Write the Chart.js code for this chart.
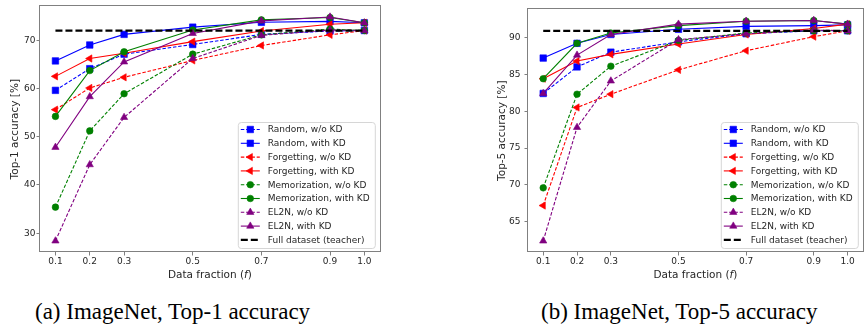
<!DOCTYPE html>
<html>
<head>
<meta charset="utf-8">
<script src="https://cdn.jsdelivr.net/npm/chart.js@4.4.1/dist/chart.umd.min.js"></script>
<style>
  html, body { margin: 0; padding: 0; background: #fff; overflow: hidden; }
  body { width: 867px; height: 326px; position: relative; }
  canvas { position: absolute; top: 0; }
  #top1Chart { left: 0; }
  #top5Chart { left: 488px; }
  .caption {
    position: absolute; top: 300px;
    font-family: "Liberation Serif", "DejaVu Serif", serif;
    font-size: 23px; line-height: 23px; color: #000; white-space: nowrap;
  }
</style>
</head>
<body>
<canvas id="top1Chart" width="385" height="290"></canvas>
<canvas id="top5Chart" width="380" height="290"></canvas>
<div class="caption" style="left:35px">(a) ImageNet, Top-1 accuracy</div>
<div class="caption" style="left:541px">(b) ImageNet, Top-5 accuracy</div>
<script>
// data fractions on the x axis
const fractions = [0.1, 0.2, 0.3, 0.5, 0.7, 0.9, 1.0];
const top1Ticks = [30, 40, 50, 60, 70];
const top5Ticks = [65, 70, 75, 80, 85, 90];

const seriesNames = [
  "Random, w/o KD", "Random, with KD",
  "Forgetting, w/o KD", "Forgetting, with KD",
  "Memorization, w/o KD", "Memorization, with KD",
  "EL2N, w/o KD", "EL2N, with KD",
];
const teacherName = "Full dataset (teacher)";

// Top-1 accuracy [%]
const top1RandomNoKD = [59.6, 64.1, 67.1, 69.1, 71.2, 71.9, 72.0];
const top1RandomKD = [65.7, 69.0, 71.2, 72.7, 73.7, 73.9, 73.6];
const top1ForgetNoKD = [55.6, 60.1, 62.3, 65.8, 68.9, 71.1, 72.0];
const top1ForgetKD = [62.5, 66.2, 67.3, 69.7, 71.9, 73.3, 73.6];
const top1MemNoKD = [35.4, 51.2, 58.9, 67.1, 71.1, 72.3, 72.0];
const top1MemKD = [54.2, 63.7, 67.6, 72.1, 74.2, 74.7, 73.6];
const top1El2nNoKD = [28.4, 44.2, 54.0, 66.2, 71.0, 72.1, 72.0];
const top1El2nKD = [47.8, 58.3, 65.5, 71.4, 74.0, 74.8, 73.6];
const top1Teacher = 72.0;

// Top-5 accuracy [%]
const top5RandomNoKD = [82.4, 86.0, 88.0, 89.4, 90.5, 90.9, 90.9];
const top5RandomKD = [87.2, 89.2, 90.4, 91.1, 91.5, 91.6, 91.7];
const top5ForgetNoKD = [67.2, 80.5, 82.3, 85.6, 88.2, 90.1, 90.9];
const top5ForgetKD = [84.4, 86.8, 87.7, 89.1, 90.4, 91.2, 91.8];
const top5MemNoKD = [69.6, 82.3, 86.1, 89.6, 90.6, 90.9, 90.9];
const top5MemKD = [84.4, 89.2, 90.6, 91.6, 92.2, 92.3, 91.8];
const top5El2nNoKD = [62.4, 77.8, 84.1, 89.7, 90.5, 91.0, 90.9];
const top5El2nKD = [82.4, 87.6, 90.4, 91.8, 92.2, 92.3, 91.8];
const top5Teacher = 90.9;

const seriesStyles = [
  { color: "#0000ff", marker: "rect", rotation: 0, radius: 4.6, dashed: true },
  { color: "#0000ff", marker: "rect", rotation: 0, radius: 4.6, dashed: false },
  { color: "#ff0000", marker: "triangle", rotation: -90, radius: 4.2, dashed: true },
  { color: "#ff0000", marker: "triangle", rotation: -90, radius: 4.2, dashed: false },
  { color: "#008000", marker: "circle", rotation: 0, radius: 3.3, dashed: true },
  { color: "#008000", marker: "circle", rotation: 0, radius: 3.3, dashed: false },
  { color: "#800080", marker: "triangle", rotation: 0, radius: 4.2, dashed: true },
  { color: "#800080", marker: "triangle", rotation: 0, radius: 4.2, dashed: false },
];

const FONT = "'DejaVu Sans', sans-serif";
const TEXT = "#262626";
const SPINE = "#808080";

function buildDatasets(seriesValues, teacher) {
  const datasets = seriesValues.map((vals, i) => {
    const st = seriesStyles[i];
    return {
      label: seriesNames[i],
      data: fractions.map((f, j) => ({ x: f, y: vals[j] })),
      borderColor: st.color,
      backgroundColor: st.color,
      pointBackgroundColor: st.color,
      pointBorderColor: st.color,
      borderWidth: 1.1,
      borderDash: st.dashed ? [3.5, 1.8] : [],
      pointStyle: st.marker,
      pointRotation: st.rotation,
      pointRadius: st.radius,
      pointBorderWidth: 0.6,
      order: 20 - i,
      clip: false,
    };
  });
  datasets.push({
    label: teacherName,
    data: fractions.map((f) => ({ x: f, y: teacher })),
    borderColor: "#000",
    backgroundColor: "#000",
    borderWidth: 2.2,
    borderDash: [7, 3],
    pointRadius: 0,
    order: 0,
  });
  return datasets;
}

// frame, legend inside the axes and the x title with an italic f
const decorPlugin = {
  id: "decor",
  afterDraw(chart) {
    const ctx = chart.ctx;
    const a = chart.chartArea;
    ctx.save();
    ctx.strokeStyle = SPINE;
    ctx.lineWidth = 1;
    ctx.setLineDash([]);
    ctx.strokeRect(Math.round(a.left) - 0.5, Math.round(a.top) - 0.5,
      Math.round(a.right - a.left) + 1, Math.round(a.bottom - a.top));

    // x title
    ctx.fillStyle = TEXT;
    ctx.textBaseline = "middle";
    const parts = [["Data fraction (", "10.5px " + FONT], ["f", "italic 10.5px " + FONT], [")", "10.5px " + FONT]];
    let total = 0;
    parts.forEach((p) => { ctx.font = p[1]; total += ctx.measureText(p[0]).width; });
    let tx = (a.left + a.right) / 2 - total / 2;
    parts.forEach((p) => {
      ctx.font = p[1];
      ctx.fillText(p[0], tx, 275);
      tx += ctx.measureText(p[0]).width;
    });

    // legend
    const w = 137, h = 126;
    const bx = a.right - 5 - w, by = a.bottom - 4 - h;
    ctx.beginPath();
    ctx.roundRect(bx + 0.5, by + 0.5, w, h, 3);
    ctx.fillStyle = "rgba(255,255,255,0.85)";
    ctx.fill();
    ctx.strokeStyle = "#d6d6d6";
    ctx.stroke();

    chart.data.datasets.forEach((ds, i) => {
      const y = by + 7.5 + i * 13.8;
      ctx.save();
      ctx.strokeStyle = ds.borderColor;
      ctx.lineWidth = ds.borderWidth;
      ctx.setLineDash(ds.borderDash || []);
      ctx.beginPath();
      ctx.moveTo(bx + 3, y);
      ctx.lineTo(bx + 22, y);
      ctx.stroke();
      ctx.setLineDash([]);
      if (ds.pointRadius > 0) {
        ctx.fillStyle = ds.pointBackgroundColor;
        ctx.strokeStyle = ds.pointBorderColor;
        ctx.lineWidth = ds.pointBorderWidth;
        Chart.helpers.drawPoint(ctx, {
          pointStyle: ds.pointStyle, rotation: ds.pointRotation,
          radius: ds.pointRadius, borderWidth: ds.pointBorderWidth,
        }, bx + 12.5, y);
      }
      ctx.restore();
      ctx.fillStyle = TEXT;
      ctx.font = "9px " + FONT;
      ctx.textBaseline = "middle";
      ctx.fillText(ds.label, bx + 30, y + 0.5);
    });
    ctx.restore();
  },
};

function makeChart(id, seriesValues, teacher, yMin, yMax, yTicks, yTitle, opts) {
  return new Chart(document.getElementById(id), {
    type: "line",
    data: { datasets: buildDatasets(seriesValues, teacher) },
    plugins: [decorPlugin],
    options: {
      responsive: false,
      animation: false,
      devicePixelRatio: 1,
      layout: { padding: { top: 6, right: opts.rightPad, bottom: 0, left: 0 } },
      plugins: { legend: { display: false }, tooltip: { enabled: false } },
      scales: {
        x: {
          type: "linear",
          min: 0.055,
          max: 1.045,
          afterBuildTicks: (axis) => { axis.ticks = fractions.map((v) => ({ value: v })); },
          afterFit: (axis) => { axis.height = 38; },
          grid: { drawOnChartArea: false, drawTicks: true, tickLength: 3.5, color: SPINE },
          border: { display: false },
          ticks: {
            color: TEXT, font: { family: FONT, size: 9 }, padding: 1,
            maxRotation: 0, autoSkip: false,
            callback: (v) => Number(v).toFixed(1),
          },
        },
        y: {
          min: yMin,
          max: yMax,
          afterBuildTicks: (axis) => { axis.ticks = yTicks.map((v) => ({ value: v })); },
          afterFit: (axis) => { axis.width = 40; },
          grid: { drawOnChartArea: false, drawTicks: true, tickLength: 3.5, color: SPINE },
          border: { display: false },
          ticks: { color: TEXT, font: { family: FONT, size: 9 }, padding: opts.yTickPad },
          title: {
            display: true, text: yTitle, color: TEXT,
            font: { family: FONT, size: 10.5 },
            padding: { top: opts.yTitlePad, bottom: 0 },
          },
        },
      },
    },
  });
}

const top1Chart = makeChart("top1Chart",
  [top1RandomNoKD, top1RandomKD, top1ForgetNoKD, top1ForgetKD,
   top1MemNoKD, top1MemKD, top1El2nNoKD, top1El2nKD],
  top1Teacher, 26.1, 77.0, top1Ticks, "Top-1 accuracy [%]",
  { rightPad: 5, yTickPad: 1, yTitlePad: 9.2 });

const top5Chart = makeChart("top5Chart",
  [top5RandomNoKD, top5RandomKD, top5ForgetNoKD, top5ForgetKD,
   top5MemNoKD, top5MemKD, top5El2nNoKD, top5El2nKD],
  top5Teacher, 60.9, 93.8, top5Ticks, "Top-5 accuracy [%]",
  { rightPad: 1, yTickPad: 4, yTitlePad: 7.7 });
</script>
</body>
</html>
